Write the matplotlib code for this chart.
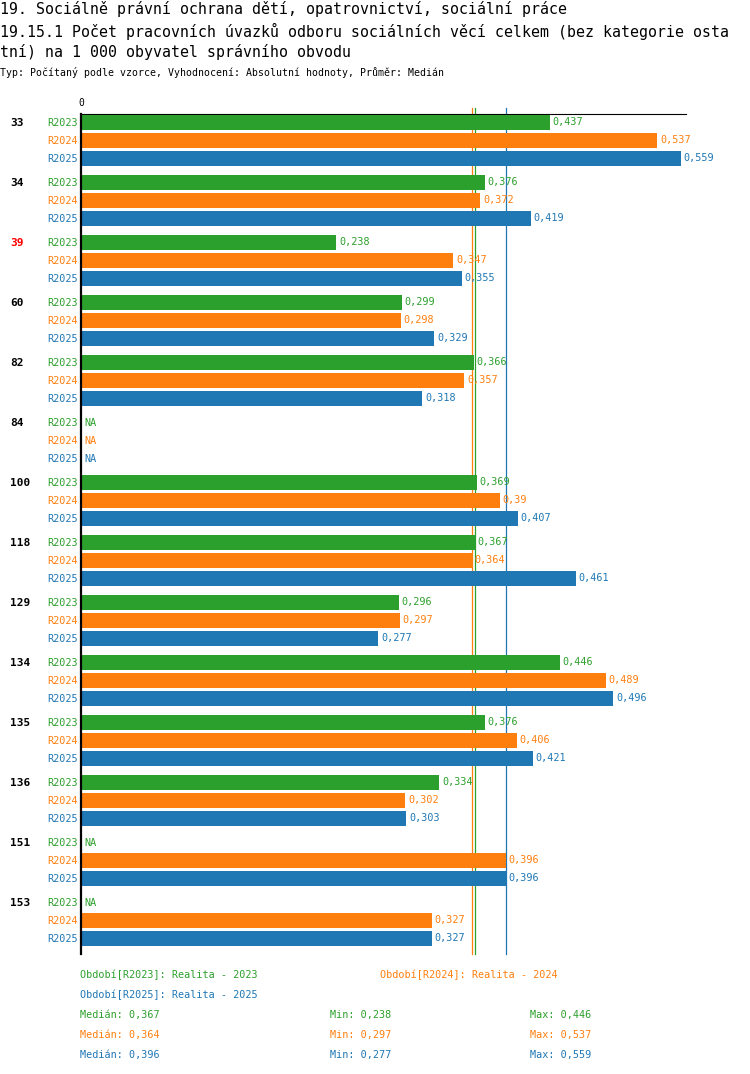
import matplotlib
matplotlib.use("Agg")
import matplotlib.pyplot as plt
from matplotlib.transforms import blended_transform_factory

# ---- data ----
GROUPS  = ["33", "34", "39", "60", "82", "84", "100", "118", "129", "134", "135", "136", "151", "153"]
SERIES  = ["R2023", "R2024", "R2025"]
R2023   = [0.437, 0.376, 0.238, 0.299, 0.366, None, 0.369, 0.367, 0.296, 0.446, 0.376, 0.334, None, None]
R2024   = [0.537, 0.372, 0.347, 0.298, 0.357, None, 0.39, 0.364, 0.297, 0.489, 0.406, 0.302, 0.396, 0.327]
R2025   = [0.559, 0.419, 0.355, 0.329, 0.318, None, 0.407, 0.461, 0.277, 0.496, 0.421, 0.303, 0.396, 0.327]
MEDIANS = [0.367, 0.364, 0.396]
MINS    = [0.238, 0.297, 0.277]
MAXS    = [0.446, 0.537, 0.559]
PERIODS = ["Realita - 2023", "Realita - 2024", "Realita - 2025"]
HIGHLIGHT = "39"

COLORS = ["#2ca02c", "#ff7f0e", "#1f77b4"]
W, H = 750, 1074
MONO = "DejaVu Sans Mono"

def fx(px): return px / W
def fy(py): return 1 - py / H

def num(v):
    return f"{v:g}".replace(".", ",")

fig = plt.figure(figsize=(W/100, H/100), dpi=100)
AX_L, AX_R, AX_T, AX_B = 81, 686, 114, 954
ax = fig.add_axes([fx(AX_L), fy(AX_B), (AX_R-AX_L)/W, (AX_B-AX_T)/H])
ax.set_xlim(0, 0.5637)
ax.set_ylim(AX_B, AX_T)   # pixel-like rows, top to bottom
ax.axis("off")

# axes lines
ax.plot([0, 0.5637], [AX_T, AX_T], color="black", lw=0.8, clip_on=False)
ax.plot([0, 0], [AX_T, AX_B], color="black", lw=1.6, clip_on=False, zorder=6)

# medians (behind bars)
for m, c in zip(MEDIANS, COLORS):
    ax.plot([m, m], [108, AX_B], color=c, lw=0.9, clip_on=False, zorder=1)

lab_tr = blended_transform_factory(fig.transFigure, ax.transData)
values = [R2023, R2024, R2025]
for g, name in enumerate(GROUPS):
    y0 = 122.5 + 60 * g
    ax.text(fx(10), y0, name, transform=lab_tr, fontsize=8, weight="bold",
            family=MONO, va="center", ha="left",
            color="red" if name == HIGHLIGHT else "black")
    for r, (s, c) in enumerate(zip(SERIES, COLORS)):
        y = y0 + 18 * r
        v = values[r][g]
        ax.text(fx(78), y, s, transform=lab_tr, fontsize=7.3, family=MONO,
                va="center", ha="right", color=c)
        if v is None:
            ax.annotate("NA", (0, y), xytext=(2.5, 0), textcoords="offset points",
                        fontsize=7.3, family=MONO, va="center", ha="left", color=c)
        else:
            ax.barh(y, v, height=15.5, color=c, zorder=3)
            ax.annotate(num(v), (v, y), xytext=(2, 0), textcoords="offset points",
                        fontsize=7.3, family=MONO, va="center", ha="left", color=c)

ax.text(0, 103, "0", fontsize=7, family=MONO, ha="center", va="center", clip_on=False)

# titles
fig.text(0, fy(9), "19. Sociálně právní ochrana dětí, opatrovnictví, sociální práce",
         fontsize=10.7, family=MONO, va="center")
fig.text(0, fy(31), "19.15.1 Počet pracovních úvazků odboru sociálních věcí celkem (bez kategorie osta",
         fontsize=10.7, family=MONO, va="center")
fig.text(0, fy(52), "tní) na 1 000 obyvatel správního obvodu",
         fontsize=10.7, family=MONO, va="center")
fig.text(0, fy(73), "Typ: Počítaný podle vzorce, Vyhodnocení: Absolutní hodnoty, Průměr: Medián",
         fontsize=7.1, family=MONO, va="center")

# legend
pos = [(80, 975), (380, 975), (80, 995)]
for (px, py), s, p, c in zip(pos, SERIES, PERIODS, COLORS):
    fig.text(fx(px), fy(py), f"Období[{s}]: {p}", fontsize=7.3, family=MONO,
             va="center", color=c)
for i, c in enumerate(COLORS):
    py = 1015 + 20 * i
    fig.text(fx(80), fy(py), f"Medián: {num(MEDIANS[i])}", fontsize=7.3, family=MONO, va="center", color=c)
    fig.text(fx(330), fy(py), f"Min: {num(MINS[i])}", fontsize=7.3, family=MONO, va="center", color=c)
    fig.text(fx(530), fy(py), f"Max: {num(MAXS[i])}", fontsize=7.3, family=MONO, va="center", color=c)

fig.savefig("out.png", dpi=100)
